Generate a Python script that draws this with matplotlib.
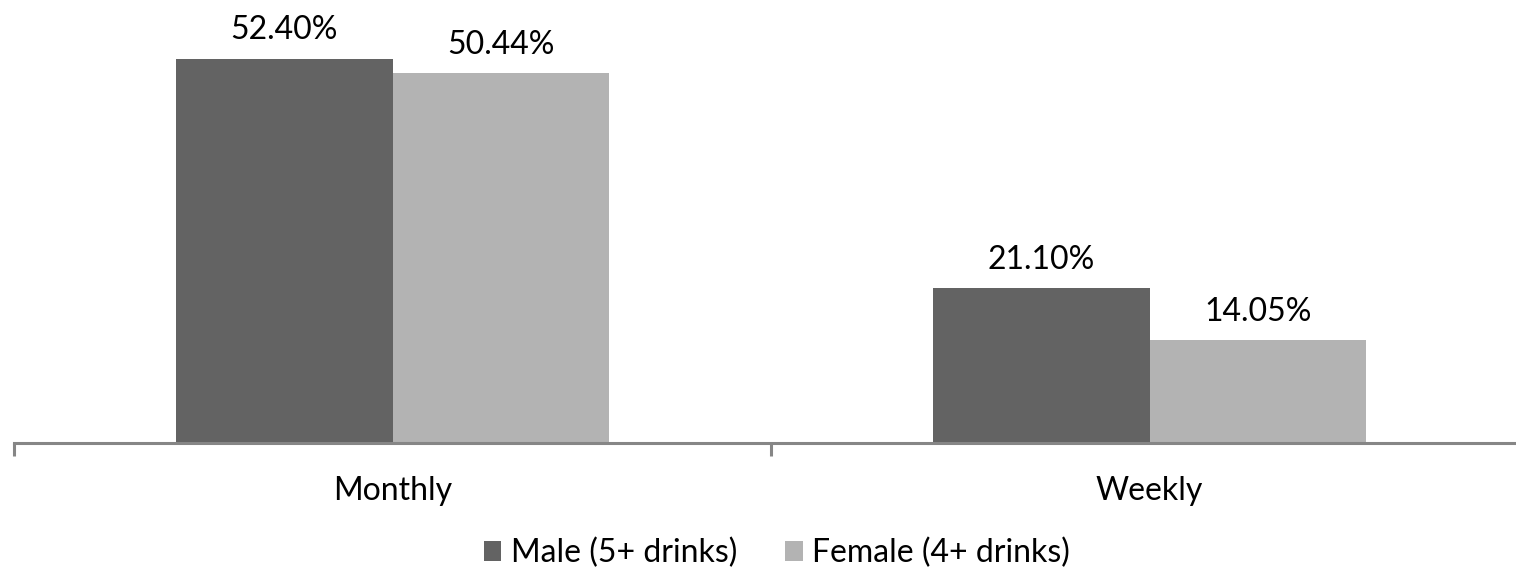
import matplotlib
matplotlib.use("Agg")
import matplotlib.pyplot as plt
import numpy as np

categories = ["Monthly", "Weekly"]
series_names = ["Male (5+ drinks)", "Female (4+ drinks)"]
male = [52.40, 21.10]
female = [50.44, 14.05]
colors = ["#636363", "#b3b3b3"]

plt.rcParams['font.family'] = ['Lato', 'DejaVu Sans']

fig = plt.figure(figsize=(15.16, 5.72), dpi=100)
ax = fig.add_axes([14/1516, 129/572, 1514/1516, 440/572])

x = np.arange(len(categories))
w = 0.286
b1 = ax.bar(x - w/2, male, w, color=colors[0], label=series_names[0])
b2 = ax.bar(x + w/2, female, w, color=colors[1], label=series_names[1])

for bars, vals in ((b1, male), (b2, female)):
    for r, v in zip(bars, vals):
        ax.annotate(f"{v:.2f}%", (r.get_x() + r.get_width()/2, v),
                    xytext=(0, 14), textcoords="offset points",
                    ha="center", va="baseline", fontsize=23,
                    color="#000000", annotation_clip=False)

ax.set_xlim(-0.5, 1.5)
ax.set_ylim(0, 60)
for s in ("top", "right", "left"):
    ax.spines[s].set_visible(False)
ax.spines["bottom"].set_color("#868686")
ax.spines["bottom"].set_linewidth(2.2)
ax.set_yticks([])
ax.set_xticks(x)
ax.set_xticklabels(categories, fontsize=23)
ax.tick_params(axis="x", which="major", length=0, pad=24)
ax.set_xticks([-0.5, 0.5, 1.5], minor=True)
ax.tick_params(axis="x", which="minor", length=9, width=2.2, color="#868686", direction="out")

leg = fig.legend(handles=[b1, b2], labels=series_names, loc="center",
                 bbox_to_anchor=(777/1516, 1 - 553/572), ncol=2, frameon=False,
                 fontsize=23, handlelength=0.55, handleheight=0.55,
                 handletextpad=0.3, columnspacing=1.5)

fig.savefig("out.png", dpi=100)
